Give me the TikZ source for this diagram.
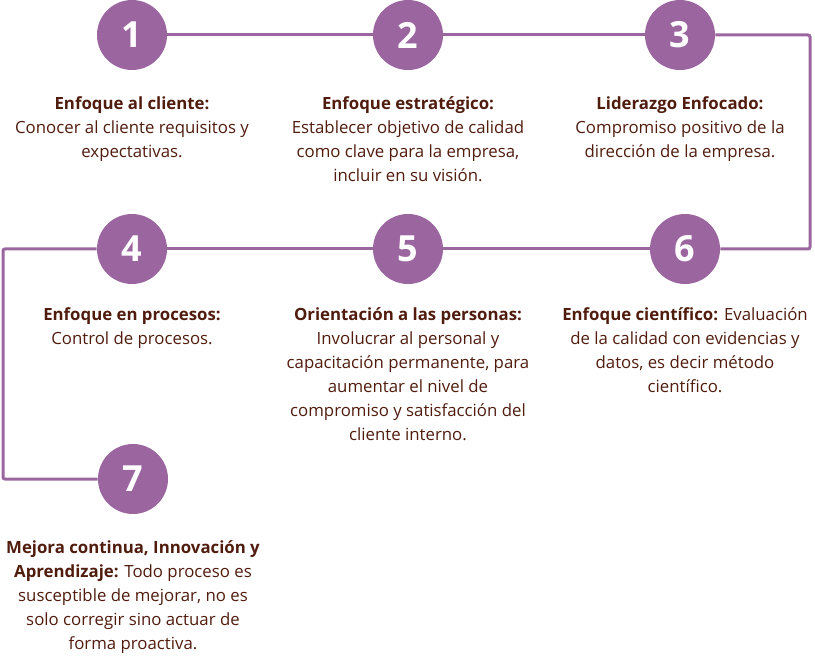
\documentclass[tikz,border=0pt]{standalone}
\usepackage{fontspec}
\setmainfont{Open Sans}
\definecolor{circ}{RGB}{155,101,160}
\definecolor{txt}{RGB}{80,28,14}
\begin{document}
\begin{tikzpicture}[x=0.75pt,y=-0.75pt,
  num/.style={circle,fill=circ,minimum size=52.5pt,inner sep=0pt,text=white,font=\fontsize{27}{27}\selectfont\bfseries},
  desc/.style={anchor=north,align=center,text=txt,font=\fontsize{12.6}{18}\selectfont,inner sep=0pt},
  link/.style={draw=circ,line width=2.25pt,rounded corners=1.5pt}]
\useasboundingbox (0,0) rectangle (815,656);
\node[num] (n1) at (132,35) {1};
\node[num] (n2) at (408,35) {2};
\node[num] (n3) at (680,35) {3};
\node[num] (n4) at (132,249) {4};
\node[num] (n5) at (408,249) {5};
\node[num] (n6) at (685,249) {6};
\node[num] (n7) at (133,479) {7};
\coordinate (r1) at (810,35);
\coordinate (r2) at (810,249);
\coordinate (l1) at (3,249);
\coordinate (l2) at (3,479);
\draw[link] (n1) -- (n2);
\draw[link] (n2) -- (n3);
\draw[link] (n3) -- (r1) -- (r2) -- (n6);
\draw[link] (n6) -- (n5);
\draw[link] (n5) -- (n4);
\draw[link] (n4) -- (l1) -- (l2) -- (n7);
\node[desc] (t1) at (132,96) {\textbf{Enfoque al cliente:}\\Conocer al cliente requisitos y\\expectativas.};
\node[desc] (t2) at (408,96) {\textbf{Enfoque estratégico:}\\Establecer objetivo de calidad\\como clave para la empresa,\\incluir en su visión.};
\node[desc] (t3) at (680,96) {\textbf{Liderazgo Enfocado:}\\Compromiso positivo de la\\dirección de la empresa.};
\node[desc] (t4) at (132,307) {\textbf{Enfoque en procesos:}\\Control de procesos.};
\node[desc] (t5) at (408,307) {\textbf{Orientación a las personas:}\\Involucrar al personal y\\capacitación permanente, para\\aumentar el nivel de\\compromiso y satisfacción del\\cliente interno.};
\node[desc] (t6) at (685,307) {\textbf{Enfoque científico:} Evaluación\\de la calidad con evidencias y\\datos, es decir método\\científico.};
\node[desc] (t7) at (133,540) {\textbf{Mejora continua, Innovación y}\\\textbf{Aprendizaje:} Todo proceso es\\susceptible de mejorar, no es\\solo corregir sino actuar de\\forma proactiva.};
\end{tikzpicture}
\end{document}
